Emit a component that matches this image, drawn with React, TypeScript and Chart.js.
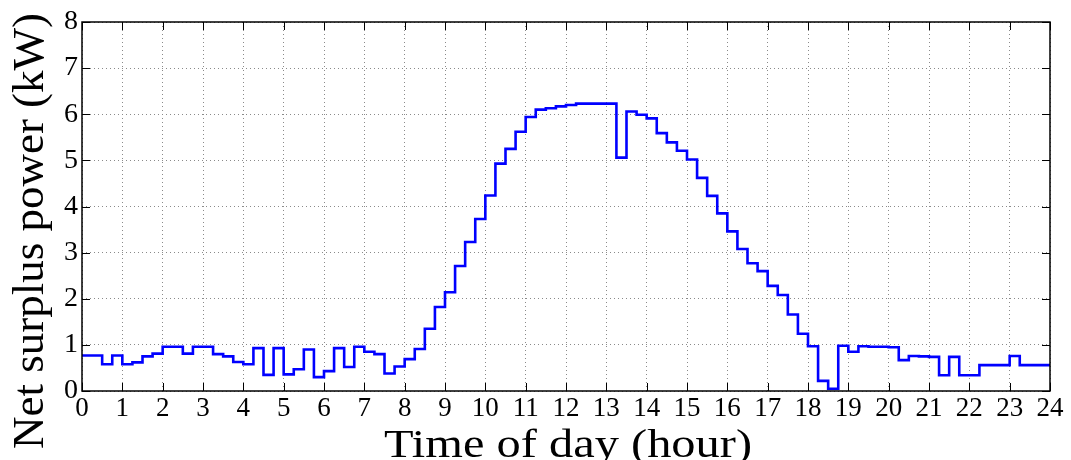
import React, { useEffect, useRef } from "react";
import { Chart, registerables } from "chart.js";

Chart.register(...registerables);

// Net surplus power, one value per 15-minute interval starting at 00:00 (kW)
const netSurplusKw: number[] = [
  0.77, 0.77, 0.58, 0.77, 0.58, 0.62, 0.75, 0.81,
  0.96, 0.96, 0.81, 0.96, 0.96, 0.80, 0.75, 0.63,
  0.58, 0.93, 0.35, 0.93, 0.36, 0.47, 0.90, 0.30,
  0.43, 0.93, 0.52, 0.96, 0.85, 0.80, 0.38, 0.53,
  0.69, 0.91, 1.35, 1.82, 2.14, 2.71, 3.23, 3.73,
  4.24, 4.93, 5.25, 5.62, 5.94, 6.10, 6.13, 6.17,
  6.20, 6.23, 6.23, 6.23, 6.23, 5.06, 6.06, 5.99,
  5.91, 5.59, 5.39, 5.21, 5.02, 4.62, 4.23, 3.85,
  3.46, 3.08, 2.77, 2.60, 2.28, 2.08, 1.66, 1.24,
  0.97, 0.22, 0.05, 0.98, 0.85, 0.97, 0.96, 0.96,
  0.95, 0.67, 0.76, 0.75, 0.74, 0.34, 0.74, 0.34,
  0.34, 0.56, 0.56, 0.56, 0.76, 0.56, 0.56, 0.56,
];

const intervalHours = 0.25;
const dayHours = 24;
const yMax = 8;

const xTitle = "Time of day (hour)";
const yTitle = "Net surplus power (kW)";

const serif = "'Liberation Serif', 'Times New Roman', serif";

// Inward tick marks on all four sides, a black frame, and the axis titles
const framePlugin = {
  id: "matlabFrame",
  afterDraw(chart: any) {
    const { ctx, chartArea, scales } = chart;
    const { left, right, top, bottom } = chartArea;
    const tickLen = 8;
    ctx.save();
    ctx.strokeStyle = "#000";
    ctx.lineWidth = 1;
    ctx.beginPath();
    for (const t of scales.x.ticks) {
      const px = Math.round(scales.x.getPixelForValue(t.value)) + 0.5;
      ctx.moveTo(px, bottom);
      ctx.lineTo(px, bottom - tickLen);
      ctx.moveTo(px, top);
      ctx.lineTo(px, top + tickLen);
    }
    for (const t of scales.y.ticks) {
      const py = Math.round(scales.y.getPixelForValue(t.value)) + 0.5;
      ctx.moveTo(left, py);
      ctx.lineTo(left + tickLen, py);
      ctx.moveTo(right, py);
      ctx.lineTo(right - tickLen, py);
    }
    ctx.stroke();
    ctx.lineWidth = 1.5;
    ctx.strokeRect(left, top, right - left, bottom - top);

    ctx.fillStyle = "#000";
    // x-axis title
    ctx.font = `39px ${serif}`;
    ctx.textAlign = "center";
    ctx.textBaseline = "alphabetic";
    const xw = ctx.measureText(xTitle).width;
    ctx.save();
    ctx.translate((left + right) / 2 + 2, 457);
    ctx.scale(368 / xw, 1);
    ctx.fillText(xTitle, 0, 0);
    ctx.restore();

    // y-axis title
    ctx.font = `45px ${serif}`;
    ctx.save();
    ctx.translate(43, 231);
    ctx.rotate(-Math.PI / 2);
    ctx.fillText(yTitle, 0, 0);
    ctx.restore();
    ctx.restore();
  },
};

const dottedGrid = {
  color: "#8a8a8a",
  lineWidth: 1,
  drawTicks: false,
};

export default function App() {
  const canvasRef = useRef<HTMLCanvasElement | null>(null);

  useEffect(() => {
    const canvas = canvasRef.current;
    if (!canvas) return;

    const points = netSurplusKw.map((v, i) => ({ x: i * intervalHours, y: v }));
    points.push({ x: dayHours, y: netSurplusKw[netSurplusKw.length - 1] });

    const chart = new Chart(canvas, {
      type: "line",
      data: {
        datasets: [
          {
            data: points,
            stepped: true,
            borderColor: "#0000ff",
            borderWidth: 2.6,
            pointRadius: 0,
            fill: false,
          },
        ],
      },
      options: {
        animation: false,
        responsive: false,
        maintainAspectRatio: false,
        layout: { padding: { top: 22, right: 21, left: 0, bottom: 0 } },
        plugins: {
          legend: { display: false },
          tooltip: { enabled: false },
        },
        scales: {
          x: {
            type: "linear",
            min: 0,
            max: dayHours,
            afterFit: (s: any) => {
              s.height = 69;
            },
            ticks: {
              stepSize: 1,
              autoSkip: false,
              maxRotation: 0,
              padding: 2,
              color: "#000",
              font: { family: serif, size: 27 },
            },
            grid: dottedGrid,
            border: { display: false, dash: [1, 3] },
          },
          y: {
            min: 0,
            max: yMax,
            afterFit: (s: any) => {
              s.width = 82;
            },
            ticks: {
              stepSize: 1,
              padding: 4,
              color: "#000",
              font: { family: serif, size: 28 },
            },
            grid: dottedGrid,
            border: { display: false, dash: [1, 3] },
          },
        },
      },
      plugins: [framePlugin],
    });

    return () => chart.destroy();
  }, []);

  return (
    <div style={{ position: "absolute", left: 0, top: 0, width: 1071, height: 460, background: "#fff" }}>
      <canvas ref={canvasRef} width={1071} height={460} style={{ display: "block" }} />
    </div>
  );
}
